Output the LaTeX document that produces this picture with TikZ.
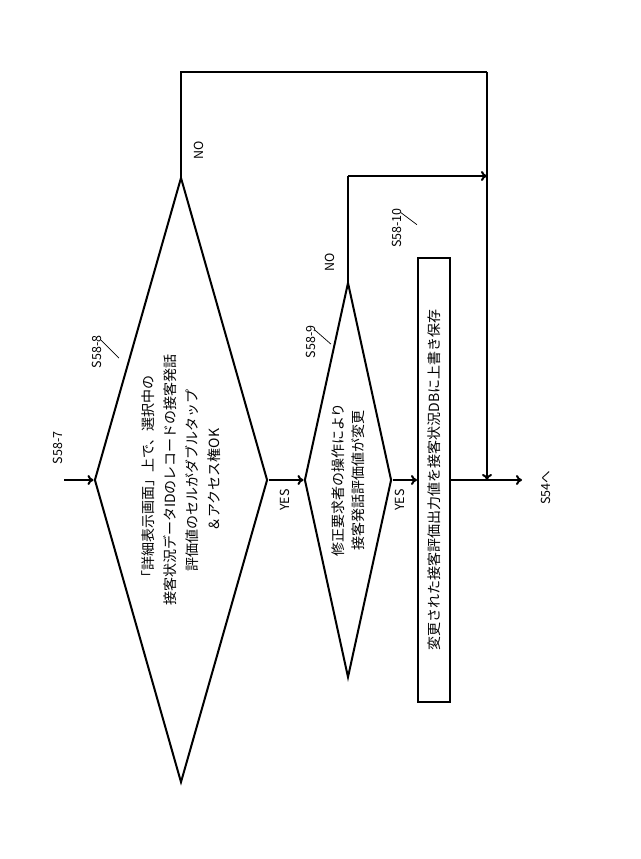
\documentclass[tikz,border=0pt]{standalone}
\usepackage{fontspec}
\setmainfont{Noto Sans CJK JP}
\usetikzlibrary{shapes.geometric,arrows.meta}
\begin{document}
\begin{tikzpicture}[x=1pt,y=-1pt]
\tikzset{kettei/.style={diamond, draw=black, line width=2pt, inner sep=0pt},
  shori/.style={rectangle, draw=black, line width=2pt, inner sep=0pt},
  bun/.style={rotate=90, align=center, font=\fontsize{14}{22}\selectfont},
  fuda/.style={rotate=90, font=\fontsize{12.5}{14}\selectfont},
  sen/.style={line width=2pt},
  ya/.style={sen, -{To[length=6pt,width=10pt]}}}
\useasboundingbox (0,0) rectangle (640,859);
\node[kettei, minimum width=173, minimum height=605] (d8) at (181,480) {};
\node[kettei, minimum width=87, minimum height=395] (d9) at (348,480) {};
\node[shori, minimum width=32, minimum height=444] (r10) at (434,480) {};
\node[bun] (t8) at (181,480) {「詳細表示画面」上で、選択中の\\接客状況データIDのレコードの接客発話\\評価値のセルがダブルタップ\\＆アクセス権OK};
\node[bun, font=\fontsize{14}{20}\selectfont] (t9) at (348,480) {修正要求者の操作により\\接客発話評価値が変更};
\node[bun] (t10) at (434,480) {変更された接客評価出力値を接客状況DBに上書き保存};
\node[fuda] (l7) at (58,448) {S58-7};
\node[fuda] (l8) at (97,352) {S58-8};
\node[fuda] (l9) at (311,342) {S58-9};
\node[fuda] (l10) at (397,228) {S58-10};
\node[fuda] (no8) at (199,150) {NO};
\node[fuda] (no9) at (330,262) {NO};
\node[fuda] (yes8) at (285,500) {YES};
\node[fuda] (yes9) at (400,500) {YES};
\node[fuda] (s54) at (546,488) {S54へ};
\coordinate (in7) at (64,480);
\coordinate (out) at (522,480);
\coordinate (kado1) at (181,72);
\coordinate (kado2) at (487,72);
\coordinate (kado3) at (348,176);
\coordinate (goryu) at (487,480);
\draw[ya] (in7) -- (d8.west);
\draw[ya] (d8.east) -- (d9.west);
\draw[ya] (d9.east) -- (r10.west);
\draw[ya] (r10.east) -- (out);
\draw[sen] (d8.north) -- (kado1) -- (kado2);
\draw[ya] (kado2) -- (goryu);
\draw[sen] (d9.north) -- (kado3);
\draw[ya] (kado3) -- (kado3 -| goryu);
\draw[line width=0.7pt] (l8.east) ++(4,8) -- ++(18,18);
\draw[line width=0.7pt] (l9.east) ++(4,8) -- ++(16,14);
\draw[line width=0.7pt] (l10.east) ++(4,8) -- ++(16,12);
\end{tikzpicture}
\end{document}
